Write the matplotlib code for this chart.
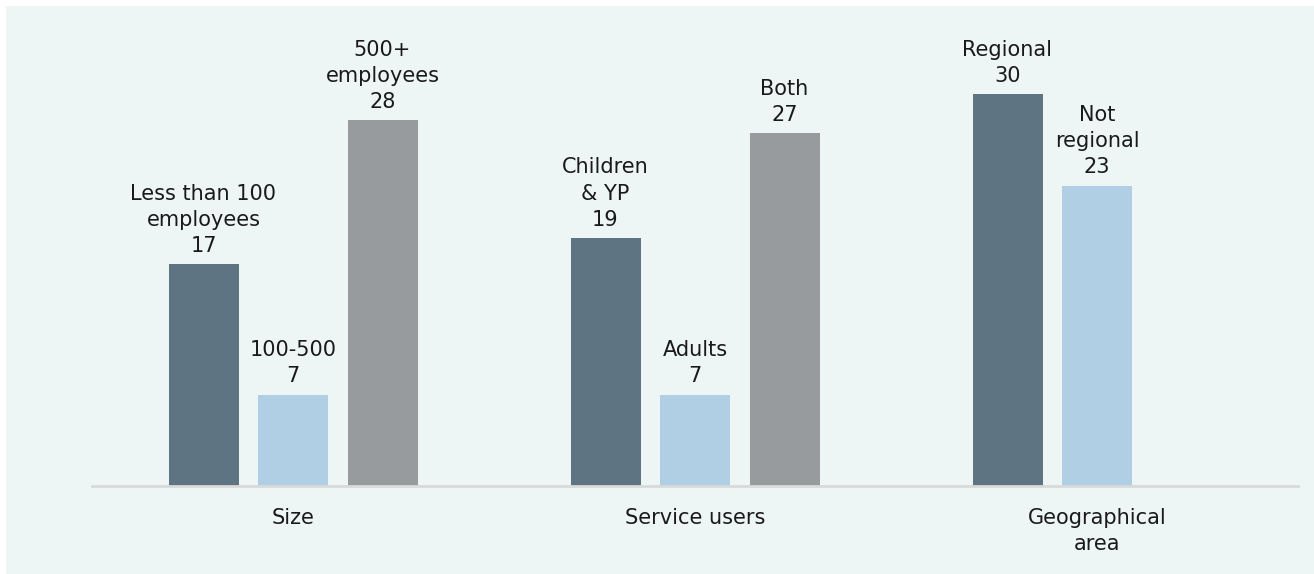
import matplotlib
matplotlib.use("Agg")
import matplotlib.pyplot as plt
from matplotlib.patches import Rectangle
import numpy as np

categories = ["Size", "Service users", "Geographical\narea"]
series_labels = [
    ["Less than 100\nemployees", "Children\n& YP", "Regional"],
    ["100-500", "Adults", "Not\nregional"],
    ["500+\nemployees", "Both", None],
]
series_values = [
    [17, 19, 30],
    [7, 7, 23],
    [28, 27, None],
]
colors = ["#5E7482", "#B0CFE5", "#989B9E"]

plt.rcParams['font.family'] = ['DejaVu Sans']

fig = plt.figure(figsize=(13.14, 5.74), dpi=100)
fig.patch.set_facecolor("white")
fig.patches.append(Rectangle((6 / 1314, 0), 1 - 6 / 1314, 1 - 6 / 574,
                             transform=fig.transFigure, facecolor="#EEF6F5",
                             edgecolor="none", zorder=-10))

ax = fig.add_axes([92 / 1314, (574 - 486) / 574, 1206 / 1314, 457 / 574])
ax.set_facecolor("none")

x = np.arange(len(categories))
width = 70 / 402
step = 89.5 / 402

for i, (vals, labs) in enumerate(zip(series_values, series_labels)):
    for j, (v, lab) in enumerate(zip(vals, labs)):
        if v is None:
            continue
        xpos = x[j] + (i - 1) * step
        ax.bar(xpos, v, width=width, color=colors[i], zorder=2)
        ax.annotate(f"{lab}\n{v}", xy=(xpos, v), xytext=(0, 6),
                    textcoords="offset points", ha="center", va="bottom",
                    fontsize=15, color="#1A1A1A", linespacing=1.38)

ax.set_xlim(-0.5, 2.5)
ax.set_ylim(0, 35)
ax.set_xticks(x)
ax.set_xticklabels(categories, fontsize=15, color="#1A1A1A", linespacing=1.38)
ax.tick_params(axis="x", length=0, pad=16)
ax.set_yticks([])
for s in ["top", "right", "left"]:
    ax.spines[s].set_visible(False)
ax.spines["bottom"].set_color("#D9D9D9")
ax.spines["bottom"].set_linewidth(2)

fig.savefig("out.png", dpi=100)
